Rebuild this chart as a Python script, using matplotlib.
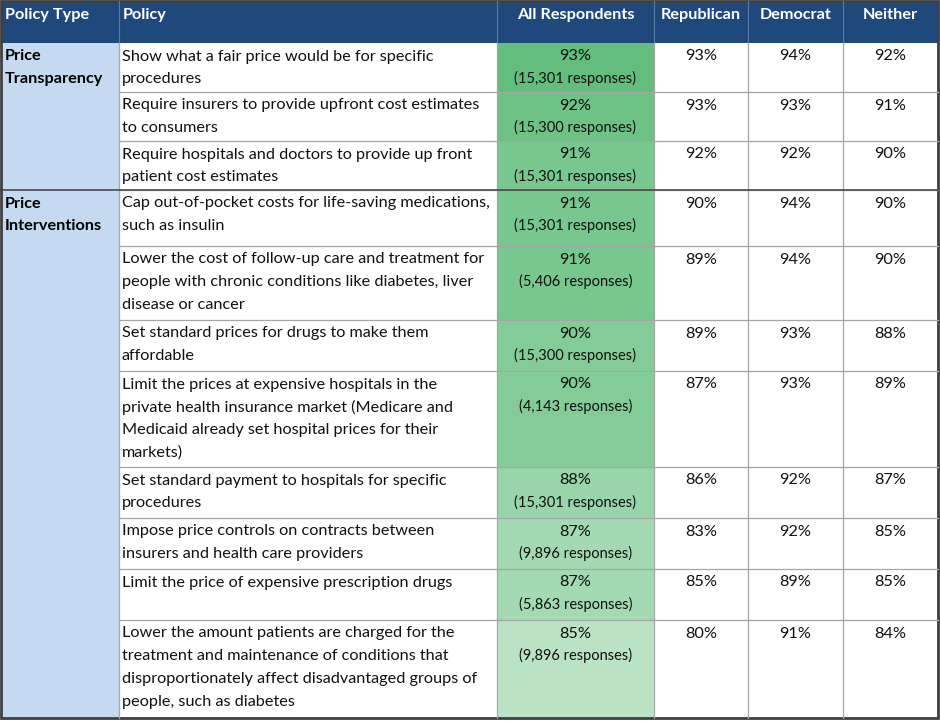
import matplotlib
matplotlib.use("Agg")
import matplotlib.pyplot as plt
from matplotlib.patches import Rectangle
from matplotlib.colors import LinearSegmentedColormap, Normalize

plt.rcParams['font.family'] = ['Lato', 'DejaVu Sans']

# data
headers = ["Policy Type", "Policy", "All Respondents", "Republican", "Democrat", "Neither"]
policy_types = ["Price\nTransparency", "Price\nInterventions"]
group_sizes = [3, 8]
policies = [
    "Show what a fair price would be for specific\nprocedures",
    "Require insurers to provide upfront cost estimates\nto consumers",
    "Require hospitals and doctors to provide up front\npatient cost estimates",
    "Cap out-of-pocket costs for life-saving medications,\nsuch as insulin",
    "Lower the cost of follow-up care and treatment for\npeople with chronic conditions like diabetes, liver\ndisease or cancer",
    "Set standard prices for drugs to make them\naffordable",
    "Limit the prices at expensive hospitals in the\nprivate health insurance market (Medicare and\nMedicaid already set hospital prices for their\nmarkets)",
    "Set standard payment to hospitals for specific\nprocedures",
    "Impose price controls on contracts between\ninsurers and health care providers",
    "Limit the price of expensive prescription drugs",
    "Lower the amount patients are charged for the\ntreatment and maintenance of conditions that\ndisproportionately affect disadvantaged groups of\npeople, such as diabetes",
]
all_pct = [93, 92, 91, 91, 91, 90, 90, 88, 87, 87, 85]
responses = [15301, 15300, 15301, 15301, 5406, 15300, 4143, 15301, 9896, 5863, 9896]
republican = [93, 93, 92, 90, 89, 89, 87, 86, 83, 85, 80]
democrat = [94, 93, 92, 94, 94, 93, 93, 92, 92, 89, 91]
neither = [92, 91, 90, 90, 90, 88, 89, 87, 85, 85, 84]

# layout (pixels)
W, H = 940, 721
col_x = [1, 119, 497, 654, 748, 843, 938]
row_y = [1, 43, 92, 141, 190, 246, 320, 371, 467, 518, 569, 620, 718]
fs = 11.7
fs_small = 10.5
pitch = 22.7
first = 13.5

header_bg = "#1F497D"
type_bg = "#C5D9F1"
grid = "#A6A6A6"
frame = "#3F3F3F"
greens = LinearSegmentedColormap.from_list("g", ["#BAE3C6", "#63BE7B"])
norm = Normalize(min(all_pct), max(all_pct))

fig = plt.figure(figsize=(W / 100, H / 100), dpi=100)
ax = fig.add_axes([0, 0, 1, 1])
ax.set_xlim(0, W)
ax.set_ylim(H, 0)
ax.axis("off")


def put(x, y0, s, ha="left", k0=0, size=fs, **kw):
    # one text per line so the line pitch matches the spreadsheet
    for k, line in enumerate(s.split("\n")):
        ax.text(x, y0 + first + (k + k0) * pitch, line, fontsize=size, ha=ha,
                va="center", **kw)


# header
ax.add_patch(Rectangle((col_x[0], row_y[0]), col_x[-1] - col_x[0], row_y[1] - row_y[0],
                       facecolor=header_bg, edgecolor="none"))
for i, h in enumerate(headers):
    if i < 2:
        ax.text(col_x[i] + 4, row_y[0] + 14, h, color="white", fontweight="bold",
                fontsize=fs, ha="left", va="center")
    else:
        ax.text((col_x[i] + col_x[i + 1]) / 2, row_y[0] + 14, h, color="white",
                fontweight="bold", fontsize=fs, ha="center", va="center")
for x in col_x[1:-1]:
    ax.plot([x, x], [row_y[0], row_y[1]], color="#5A7BA6", lw=0.8)

# policy type column
start = 0
for t, n in zip(policy_types, group_sizes):
    y0, y1 = row_y[start + 1], row_y[start + 1 + n]
    ax.add_patch(Rectangle((col_x[0], y0), col_x[1] - col_x[0], y1 - y0,
                           facecolor=type_bg, edgecolor="none"))
    put(col_x[0] + 4, y0, t, fontweight="bold", color="black")
    start += n

# body rows
for r in range(len(policies)):
    y0, y1 = row_y[r + 1], row_y[r + 2]
    xc = (col_x[2] + col_x[3]) / 2
    ax.add_patch(Rectangle((col_x[2], y0), col_x[3] - col_x[2], y1 - y0,
                           facecolor=greens(norm(all_pct[r])), edgecolor="none"))
    put(col_x[1] + 3, y0, policies[r], color="#111111")
    put(xc, y0, f"{all_pct[r]}%", ha="center", color="#111111")
    put(xc, y0 - 1, f"({responses[r]:,} responses)", ha="center", k0=1,
        size=fs_small, color="#111111")
    for c, vals in zip(range(3, 6), [republican, democrat, neither]):
        put((col_x[c] + col_x[c + 1]) / 2, y0, f"{vals[r]}%", ha="center", color="#111111")
    if r < len(policies) - 1:
        ax.plot([col_x[1], col_x[-1]], [y1, y1], color=grid, lw=0.9)

# vertical grid lines in body
for x in col_x[1:-1]:
    ax.plot([x, x], [row_y[1], row_y[-1]], color=grid, lw=0.9)

# group separator
ax.plot([col_x[0], col_x[-1]], [row_y[1 + group_sizes[0]]] * 2, color=frame, lw=1.1)

# outer frame
ax.add_patch(Rectangle((col_x[0], row_y[0]), col_x[-1] - col_x[0], row_y[-1] - row_y[0],
                       facecolor="none", edgecolor=frame, lw=2.0))

fig.savefig("out.png", dpi=100)
